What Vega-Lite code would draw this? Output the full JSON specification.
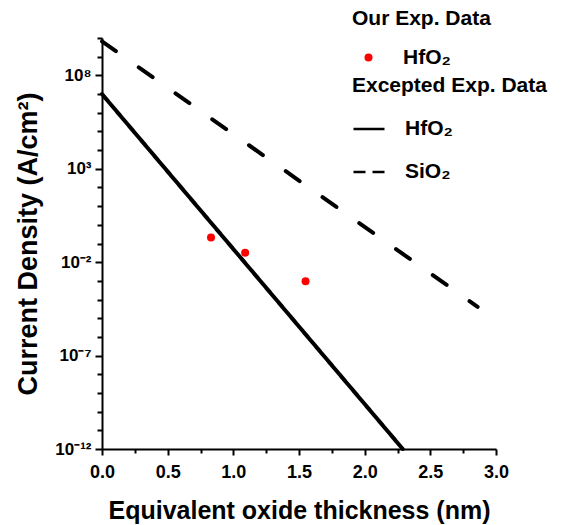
{
  "$schema": "https://vega.github.io/schema/vega-lite/v6.json",
  "width": 394,
  "height": 411,
  "autosize": {"type": "none"},
  "padding": {"left": 102, "top": 38, "right": 70, "bottom": 76},
  "background": "white",
  "config": {
    "view": {"stroke": null},
    "font": "Liberation Sans",
    "axis": {
      "grid": false,
      "domainColor": "black",
      "domainWidth": 2,
      "tickColor": "black",
      "tickWidth": 2,
      "labelColor": "black",
      "labelFont": "Liberation Sans",
      "labelFontWeight": "bold",
      "titleColor": "black",
      "titleFont": "Liberation Sans",
      "titleFontWeight": "bold",
      "titleFontSize": 25
    },
    "legend": {
      "titleFont": "Liberation Sans",
      "titleFontWeight": "bold",
      "titleFontSize": 21,
      "titleColor": "black",
      "titleLimit": 500,
      "labelFont": "Liberation Sans",
      "labelFontWeight": "bold",
      "labelFontSize": 21,
      "labelColor": "black",
      "labelLimit": 300
    }
  },
  "datasets": {
    "lines": [
      {"series": "HfO₂", "eot": 0, "j": 1e7},
      {"series": "HfO₂", "eot": 2.29, "j": 1e-12},
      {"series": "SiO₂", "eot": 0, "j": 6.6e9},
      {"series": "SiO₂", "eot": 2.86, "j": 4.1e-5}
    ],
    "points": [
      {"group": "HfO₂", "eot": 0.83, "j": 0.21},
      {"group": "HfO₂", "eot": 1.09, "j": 0.032},
      {"group": "HfO₂", "eot": 1.55, "j": 0.00096}
    ]
  },
  "encoding": {
    "x": {
      "field": "eot",
      "type": "quantitative",
      "scale": {"domain": [0, 3], "nice": false, "zero": false},
      "axis": {
        "title": "Equivalent oxide thickness (nm)",
        "values": [0, 0.25, 0.5, 0.75, 1, 1.25, 1.5, 1.75, 2, 2.25, 2.5, 2.75, 3],
        "labelExpr": "round(datum.value*4) % 2 == 0 ? format(datum.value, '.1f') : ''",
        "tickSize": {"condition": {"test": "round(datum.value*4) % 2 == 0", "value": 6}, "value": 4},
        "labelFontSize": 18,
        "labelPadding": 8,
        "labelFlush": false,
        "titlePadding": 17
      }
    },
    "y": {
      "field": "j",
      "type": "quantitative",
      "scale": {"type": "log", "domain": [1e-12, 1e10], "nice": false},
      "axis": {
        "title": "Current Density (A/cm²)",
        "titleFontSize": 27,
        "values": [1e-12, 1e-11, 1e-10, 1e-9, 1e-8, 1e-7, 1e-6, 1e-5, 1e-4, 1e-3, 1e-2, 1e-1, 1, 10, 100, 1000, 1e4, 1e5, 1e6, 1e7, 1e8, 1e9, 1e10],
        "labelExpr": "round(log(datum.value)/LN10)==8 ? '10⁸' : round(log(datum.value)/LN10)==3 ? '10³' : round(log(datum.value)/LN10)==-2 ? '10⁻²' : round(log(datum.value)/LN10)==-7 ? '10⁻⁷' : round(log(datum.value)/LN10)==-12 ? '10⁻¹²' : ''",
        "tickSize": {"condition": {"test": "(round(log(datum.value)/LN10)+12) % 5 == 0", "value": 7}, "value": 5},
        "labelFontSize": 17,
        "labelPadding": 4,
        "labelFlush": false,
        "labelOverlap": false,
        "titlePadding": 12
      }
    }
  },
  "resolve": {"scale": {"strokeDash": "independent"}},
  "layer": [
    {
      "data": {"name": "lines"},
      "mark": {"type": "line", "color": "black", "strokeWidth": 4, "strokeCap": "round"},
      "encoding": {
        "strokeDash": {
          "field": "series",
          "type": "nominal",
          "scale": {"domain": ["HfO₂", "SiO₂"], "range": [[1, 0], [17, 28]]},
          "legend": null
        }
      }
    },
    {
      "data": {"name": "lines"},
      "transform": [{"filter": "false"}],
      "mark": {"type": "line", "color": "black", "strokeWidth": 2.5},
      "encoding": {
        "strokeDash": {
          "field": "series",
          "type": "nominal",
          "scale": {"domain": ["HfO₂", "SiO₂"], "range": [[1, 0], [12, 7]]},
          "legend": {
            "title": "Excepted Exp. Data",
            "orient": "none",
            "legendX": 250,
            "legendY": 37,
            "symbolType": "stroke",
            "symbolSize": 961,
            "symbolStrokeWidth": 2.5,
            "symbolStrokeColor": "black",
            "labelOffset": 19,
            "rowPadding": 16,
            "titlePadding": 16
          }
        }
      }
    },
    {
      "data": {"name": "points"},
      "mark": {"type": "circle", "size": 64, "opacity": 1},
      "encoding": {
        "color": {
          "field": "group",
          "type": "nominal",
          "scale": {"domain": ["HfO₂"], "range": ["#ff0000"]},
          "legend": {
            "title": "Our Exp. Data",
            "orient": "none",
            "legendX": 250,
            "legendY": -30,
            "symbolType": "circle",
            "symbolSize": 64,
            "symbolOpacity": 1,
            "symbolOffset": 6,
            "labelOffset": 24,
            "titlePadding": 18
          }
        }
      }
    }
  ]
}
